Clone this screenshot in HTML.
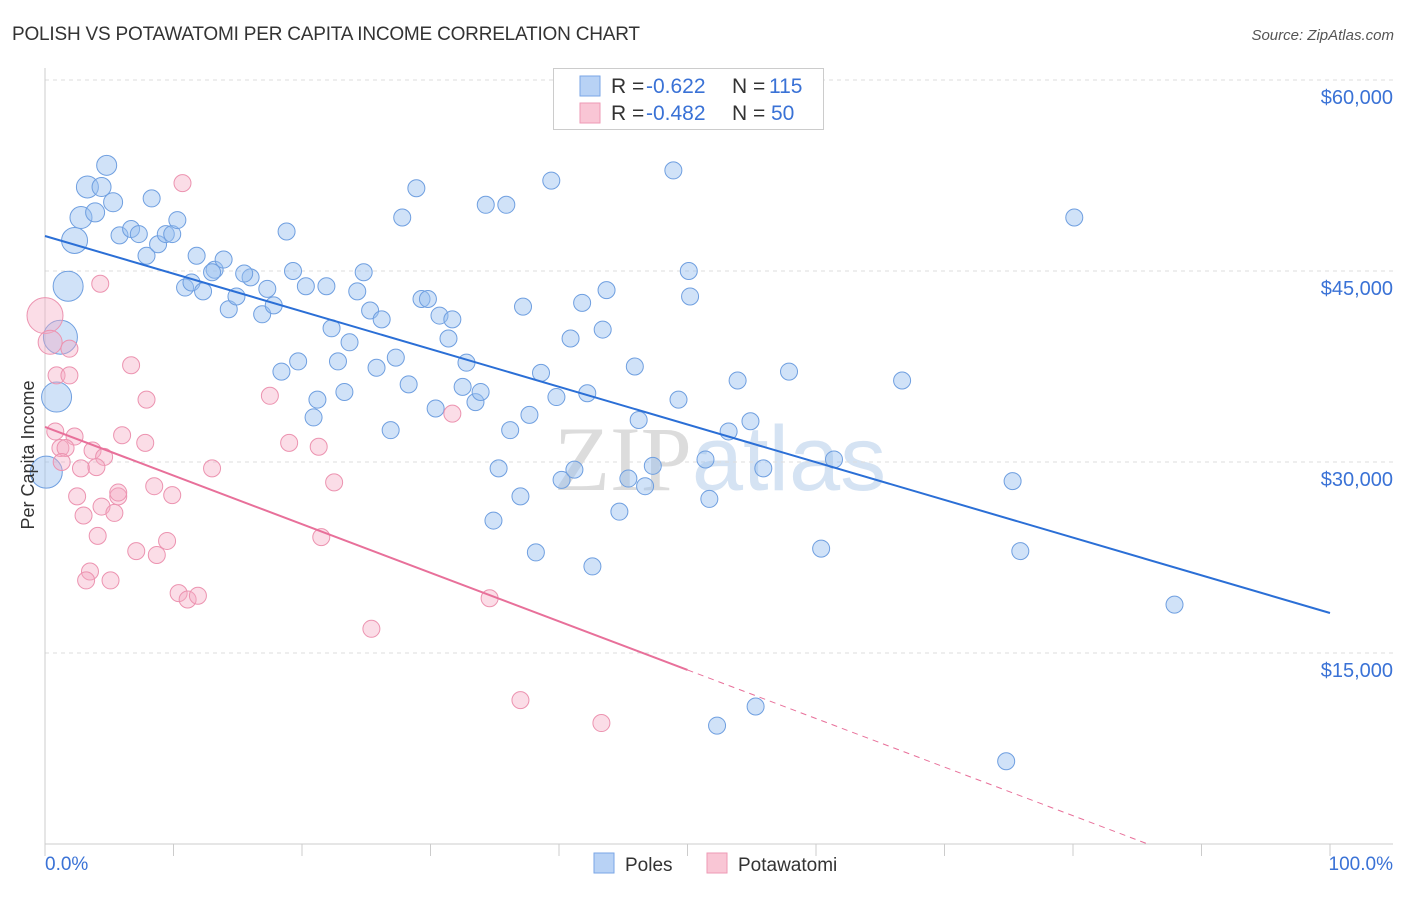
<!DOCTYPE html>
<html><head><meta charset="utf-8"><style>
body{margin:0;background:#fff;font-family:"Liberation Sans",sans-serif}
</style></head><body>
<svg id="chart" width="1406" height="892" xmlns="http://www.w3.org/2000/svg">
<text x="12" y="40" font-size="19" fill="#333" textLength="628">POLISH VS POTAWATOMI PER CAPITA INCOME CORRELATION CHART</text>
<text x="1394" y="40" font-size="15" fill="#555" text-anchor="end" font-style="italic">Source: ZipAtlas.com</text>
<text x="720" y="490" font-size="92" fill="#e4e4e4" text-anchor="middle"><tspan font-family="Liberation Serif" fill="#dcdcdc">ZIP</tspan><tspan fill="#d5e3f3">atlas</tspan></text>
<g id="grid"></g><g id="marks"></g><g id="lines"></g>
<text x="34" y="455" font-size="18" fill="#333" text-anchor="middle" transform="rotate(-90 34 455)">Per Capita Income</text>
<g>
<rect x="553.5" y="68.5" width="270" height="61" fill="#fff" stroke="#ccc"/>
<rect x="580" y="76" width="20" height="20" fill="#b8d2f5" stroke="#7aa6e6"/>
<rect x="580" y="103" width="20" height="20" fill="#f9c6d5" stroke="#ee9ab5"/>
<text x="611" y="93" font-size="21" fill="#333">R = <tspan x="646" fill="#3a72d6">-0.622</tspan><tspan x="732">N = </tspan><tspan x="769" fill="#3a72d6">115</tspan></text>
<text x="611" y="120" font-size="21" fill="#333">R = <tspan x="646" fill="#3a72d6">-0.482</tspan><tspan x="732">N = </tspan><tspan x="771" fill="#3a72d6">50</tspan></text>
</g>
<g>
<rect x="594" y="853" width="20" height="20" fill="#b8d2f5" stroke="#7aa6e6"/>
<text x="625" y="871" font-size="19" fill="#333">Poles</text>
<rect x="707" y="853" width="20" height="20" fill="#f9c6d5" stroke="#ee9ab5"/>
<text x="738" y="871" font-size="19" fill="#333">Potawatomi</text>
</g>
</svg>
<script>
const yTicks=[15000,30000,45000,60000];
const yTickLabels=["$15,000","$30,000","$45,000","$60,000"];
const xTickLabels=["0.0%","100.0%"];
const polesX=[1.8,1.2,0.9,0.1,2.3,3.3,2.8,4.8,4.4,5.3,3.9,8.3,5.8,6.7,7.3,7.9,8.8,9.4,9.9,10.3,11.8,10.9,11.4,12.3,13.2,13.9,13.0,14.3,14.9,16.0,15.5,16.9,17.3,17.8,18.8,19.3,20.3,21.9,24.3,24.8,28.9,27.8,34.3,35.9,39.4,48.9,80.1,22.3,23.7,25.3,26.2,19.7,18.4,22.8,25.8,27.3,28.3,21.2,20.9,23.3,26.9,29.3,29.8,30.7,31.7,31.4,32.8,30.4,32.5,33.5,33.9,37.2,38.6,37.7,36.2,39.8,40.9,41.8,43.4,43.7,45.9,42.2,46.2,35.3,37.0,34.9,38.2,40.2,41.2,42.6,44.7,45.4,46.7,47.3,49.3,50.1,50.2,51.4,51.7,53.2,53.9,54.9,55.9,57.9,61.4,60.4,66.7,75.3,75.9,87.9,52.3,55.3,74.8];
const polesY=[43800,39800,35100,29200,47400,51600,49200,53300,51600,50400,49600,50700,47800,48300,47900,46200,47100,47900,47900,49000,46200,43700,44100,43400,45100,45900,44900,42000,43000,44500,44800,41600,43600,42300,48100,45000,43800,43800,43400,44900,51500,49200,50200,50200,52100,52900,49200,40500,39400,41900,41200,37900,37100,37900,37400,38200,36100,34900,33500,35500,32500,42800,42800,41500,41200,39700,37800,34200,35900,34700,35500,42200,37000,33700,32500,35100,39700,42500,40400,43500,37500,35400,33300,29500,27300,25400,22900,28600,29400,21800,26100,28700,28100,29700,34900,45000,43000,30200,27100,32400,36400,33200,29500,37100,30200,23200,36400,28500,23000,18800,9300,10800,6500];
const polesR=[15,17,15,16,13,11,11,10,9.5,9.5,9.5];
const potX=[0,0.4,10.7,4.3,1.9,0.9,1.9,6.7,7.9,0.8,2.3,1.2,1.6,3.7,4.6,6.0,7.8,1.3,2.8,4.0,8.5,9.9,13.0,17.5,19.0,21.3,22.5,31.7,2.5,5.7,4.4,5.4,3.0,4.1,7.1,8.7,9.5,21.5,3.5,3.2,5.1,10.4,11.1,11.9,34.6,25.4,37.0,43.3,5.7];
const potY=[41500,39400,51900,44000,38900,36800,36800,37600,34900,32400,32000,31100,31100,30900,30400,32100,31500,30000,29500,29600,28100,27400,29500,35200,31500,31200,28400,33800,27300,27300,26500,26000,25800,24200,23000,22700,23800,24100,21400,20700,20700,19700,19200,19500,19300,16900,11300,9500,27600];
const potR=[18,12];
const polesTrend=[47750,18140];
const potTrend=[32750,-381.6];
const X0=45,X1=1330,Y0=844,PY=191/15000;
const xs=v=>X0+(X1-X0)*v/100, ys=v=>Y0-v*PY;
const NS="http://www.w3.org/2000/svg";
function mk(t,a,p){const e=document.createElementNS(NS,t);for(const k in a)e.setAttribute(k,a[k]);document.getElementById(p).appendChild(e);return e;}
yTicks.forEach((v,i)=>{
 const l=mk('line',{x1:X0,x2:1393,y1:ys(v),y2:ys(v),stroke:'#ddd','stroke-dasharray':'4,4'},'grid');
 
 
 const t=mk('text',{x:1393,y:ys(v)+24,'font-size':20,fill:'#3a72d6','text-anchor':'end'},'grid');t.textContent=yTickLabels[i];
 
 
});
const ax=mk('line',{x1:X0,x2:1393,y1:Y0,y2:Y0,stroke:'#ccc'},'grid');


const ay=mk('line',{x1:X0,x2:X0,y1:68,y2:Y0,stroke:'#ccc'},'grid');


for(let i=0;i<=10;i++){const t=mk('line',{x1:xs(i*10),x2:xs(i*10),y1:Y0,y2:Y0+12,stroke:'#ccc'},'grid');
 
 }
const xl0=mk('text',{x:X0,y:870,'font-size':19,fill:'#3a72d6'},'grid');xl0.textContent=xTickLabels[0];


const xl1=mk('text',{x:1393,y:870,'font-size':19,fill:'#3a72d6','text-anchor':'end'},'grid');xl1.textContent=xTickLabels[1];


polesX.forEach((x,i)=>{const c=mk('circle',{cx:xs(x),cy:ys(polesY[i]),r:polesR[i]||8.5,fill:'rgba(150,190,240,0.45)',stroke:'#6f9fe0','stroke-width':1},'marks');
 
 });
potX.forEach((x,i)=>{const c=mk('circle',{cx:xs(x),cy:ys(potY[i]),r:potR[i]||8.5,fill:'rgba(245,170,195,0.4)',stroke:'#ec93b0','stroke-width':1},'marks');
 
 });
const bl=mk('line',{x1:xs(0),y1:ys(polesTrend[0]),x2:xs(100),y2:ys(polesTrend[1]),stroke:'#2b6fd6','stroke-width':2},'lines');


const pe=50, pz=-potTrend[0]/potTrend[1];
const pl=mk('line',{x1:xs(0),y1:ys(potTrend[0]),x2:xs(pe),y2:ys(potTrend[0]+potTrend[1]*pe),stroke:'#e8709a','stroke-width':2},'lines');


const pd=mk('line',{x1:xs(pe),y1:ys(potTrend[0]+potTrend[1]*pe),x2:xs(pz),y2:ys(0),stroke:'#e8709a','stroke-width':1,'stroke-dasharray':'6,5'},'lines');


</script>
</body></html>
